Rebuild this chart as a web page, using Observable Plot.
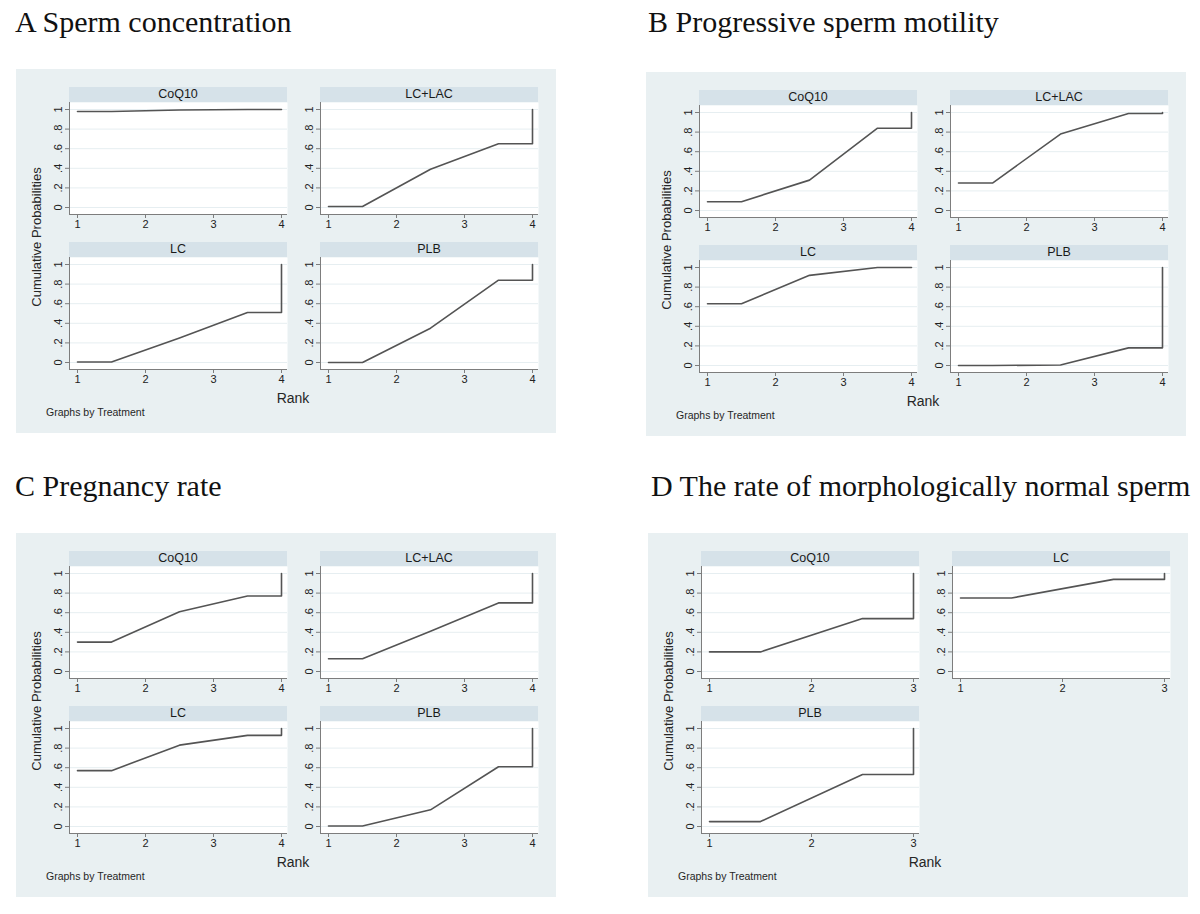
<!DOCTYPE html>
<html>
<head>
<meta charset="utf-8">
<script src="https://cdn.jsdelivr.net/npm/d3@7"></script>
<script src="https://cdn.jsdelivr.net/npm/@observablehq/plot@0.6"></script>
<style>
  body { margin: 0; background: #fff; }
  #root { position: relative; width: 1200px; height: 914px; overflow: hidden; font-family: "Liberation Sans", Arial, sans-serif; }
  .title { position: absolute; font-family: "Liberation Serif", "Times New Roman", serif; font-size: 30px; line-height: 1; color: #111; white-space: nowrap; }
  .panel { position: absolute; width: 540px; height: 364px; background: #e9f0f2; }
  .strip { position: absolute; background: #d6e2e9; font-size: 12.5px; line-height: 15px; height: 15px; text-align: center; color: #1a1a1a; }
  .facet { position: absolute; }
  .ylab { position: absolute; font-size: 13px; color: #262626; white-space: nowrap; transform: translate(-50%, -50%) rotate(-90deg); }
  .xlab { position: absolute; font-size: 14px; color: #262626; white-space: nowrap; transform: translate(-50%, -50%); }
  .note { position: absolute; font-size: 10.5px; color: #262626; white-space: nowrap; transform: translateY(-50%); }
</style>
</head>
<body>
<div id="root"></div>
<script>
// ---------------- data ----------------
const panelTitles = [
  "A Sperm concentration",
  "B Progressive sperm motility",
  "C Pregnancy rate",
  "D The rate of morphologically normal sperm"
];
const treatments4 = ["CoQ10", "LC+LAC", "LC", "PLB"];
const treatments3 = ["CoQ10", "LC", "PLB"];

// cumulative probabilities at rank 1..n for each treatment
const cumA = [
  [0.98, 0.995, 1.0, 1],   // CoQ10
  [0.01, 0.39, 0.65, 1],   // LC+LAC
  [0.005, 0.25, 0.51, 1],  // LC
  [0.0, 0.35, 0.84, 1]     // PLB
];
const cumB = [
  [0.09, 0.31, 0.84, 1],
  [0.28, 0.78, 0.99, 1],
  [0.63, 0.92, 1.0, 1],
  [0.0, 0.005, 0.18, 1]
];
const cumC = [
  [0.30, 0.61, 0.77, 1],
  [0.13, 0.41, 0.70, 1],
  [0.57, 0.83, 0.93, 1],
  [0.005, 0.17, 0.61, 1]
];
const cumD = [
  [0.20, 0.54, 1],
  [0.75, 0.94, 1],
  [0.05, 0.53, 1]
];
const yTickValues = [0, 0.2, 0.4, 0.6, 0.8, 1];
const yTickLabels = ["0", ".2", ".4", ".6", ".8", "1"];
const yAxisTitle = "Cumulative Probabilities";
const xAxisTitle = "Rank";
const noteText = "Graphs by Treatment";

// ---------------- layout ----------------
const panels = [
  { title: panelTitles[0], tx: 15, ty: 7, px: 16, py: 69, treatments: treatments4, cum: cumA },
  { title: panelTitles[1], tx: 648, ty: 7, px: 646, py: 72, treatments: treatments4, cum: cumB },
  { title: panelTitles[2], tx: 15, ty: 471, px: 16, py: 533, treatments: treatments4, cum: cumC },
  { title: panelTitles[3], tx: 651, ty: 471, px: 648, py: 533, treatments: treatments3, cum: cumD }
];
const colX = [53, 304], frameW = 218;
const rowStripY = [18, 173], stripH = 15, frameH = 112;
const ml = 30, mr = 8, mt = 2, mb = 24;
const padL = 8, padR = 6, padT = 7, padB = 7;
const gridColor = "#e6eef1", axisColor = "#7d7d7d", lineColor = "#545454";

function curvePoints(c) {
  const n = c.length;
  const pts = [{ rank: 1, p: c[0] }];
  for (let k = 1; k < n; k++) pts.push({ rank: k + 0.5, p: c[k - 1] });
  pts.push({ rank: n, p: c[n - 2] });
  pts.push({ rank: n, p: c[n - 1] });
  return pts;
}

const root = document.getElementById("root");
function el(cls, text, style) {
  const d = document.createElement("div");
  d.className = cls;
  if (text != null) d.textContent = text;
  Object.assign(d.style, style);
  return d;
}

for (const P of panels) {
  root.appendChild(el("title", P.title, { left: P.tx + "px", top: P.ty + "px" }));
  const panel = el("panel", null, { left: P.px + "px", top: P.py + "px" });
  root.appendChild(panel);

  const n = P.cum[0].length;
  const ranks = d3.range(1, n + 1);
  const ppx = (frameW - padL - padR) / (n - 1);
  const xd = [1 - padL / ppx, n + padR / ppx];
  const ppy = frameH - padT - padB;
  const yd = [-padB / ppy, 1 + padT / ppy];

  P.treatments.forEach((name, i) => {
    const col = i % 2, row = Math.floor(i / 2);
    const fx = colX[col], sy = rowStripY[row], fy = sy + stripH;
    panel.appendChild(el("strip", name, { left: fx + "px", top: sy + "px", width: frameW + "px" }));
    const chart = Plot.plot({
      width: ml + frameW + mr,
      height: mt + frameH + mb,
      marginLeft: ml, marginRight: mr, marginTop: mt, marginBottom: mb,
      style: { background: "transparent", fontFamily: "Liberation Sans, Arial, sans-serif", fontSize: "11px", color: "#222", overflow: "visible" },
      x: { domain: xd },
      y: { domain: yd },
      marks: [
        Plot.frame({ fill: "#ffffff", stroke: "none" }),
        Plot.ruleY(yTickValues, { stroke: gridColor, strokeWidth: 1 }),
        Plot.ruleX([xd[0]], { stroke: axisColor, strokeWidth: 1 }),
        Plot.ruleY([yd[0]], { stroke: axisColor, strokeWidth: 1 }),
        Plot.axisY(yTickValues, {
          tickSize: 4, tickPadding: 4, tickRotate: -90, label: null,
          tickFormat: (d) => yTickLabels[yTickValues.indexOf(d)],
          stroke: axisColor, fill: "#222"
        }),
        Plot.axisX(ranks, {
          tickSize: 4, tickPadding: 2, label: null,
          tickFormat: (d) => String(d),
          stroke: axisColor, fill: "#222"
        }),
        Plot.line(curvePoints(P.cum[i]), { x: "rank", y: "p", stroke: lineColor, strokeWidth: 1.6 })
      ]
    });
    const wrap = el("facet", null, { left: (fx - ml) + "px", top: (fy - mt) + "px" });
    wrap.appendChild(chart);
    panel.appendChild(wrap);
  });

  panel.appendChild(el("ylab", yAxisTitle, { left: "20px", top: "168px" }));
  panel.appendChild(el("xlab", xAxisTitle, { left: "277px", top: "329px" }));
  panel.appendChild(el("note", noteText, { left: "30px", top: "343px" }));
}
</script>
</body>
</html>
